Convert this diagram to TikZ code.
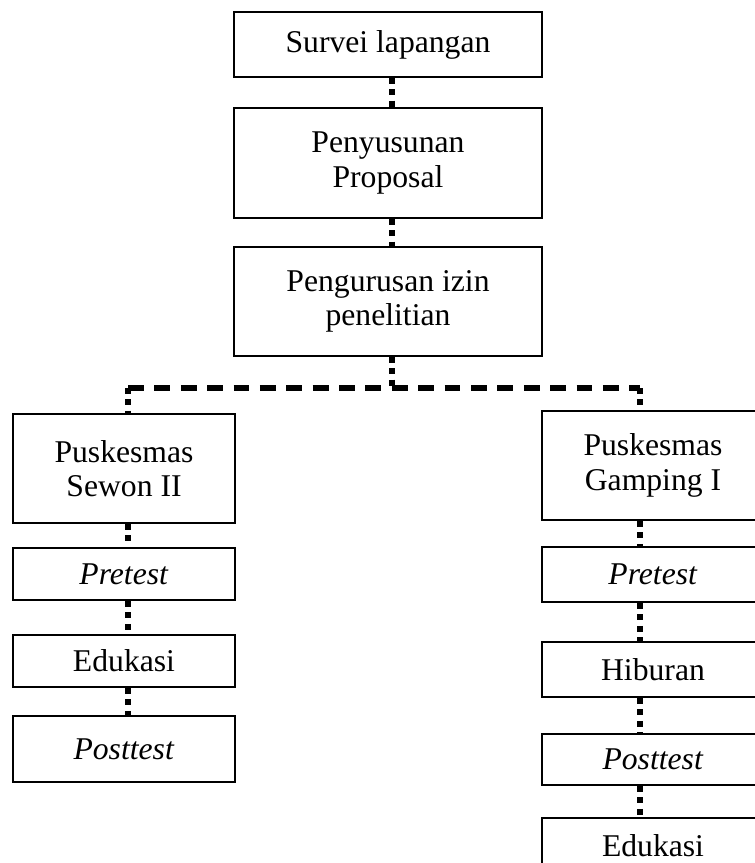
\documentclass[tikz,border=0pt]{standalone}
\usepackage{fontspec}
\setmainfont{Liberation Serif}
\usetikzlibrary{positioning}

\begin{document}
\begin{tikzpicture}[x=0.379pt, y=-0.379pt, font=\fontsize{12}{13}\selectfont,
  box/.style={draw, line width=0.8pt, align=center, inner sep=0},
  wide/.style={box, minimum width=116.7pt},
  col/.style={box, minimum width=84.1pt},
  ht/.style={minimum height=#1*0.379pt},
  dotline/.style={line width=2.2pt, dash pattern=on 2.2pt off 2.1pt},
  dashline/.style={line width=1.9pt, dash pattern=on 6pt off 4pt}]
\useasboundingbox (0,0) rectangle (755,863);
\clip (0,0) rectangle (755,863);
% Main column
\node[wide, ht=65]  (survei)   at (388,44.5)  {Survei lapangan};
\node[wide, ht=110] (proposal) at (388,163)   {Penyusunan\\Proposal};
\node[wide, ht=109] (izin)     at (388,301.5) {Pengurusan izin\\penelitian};
% Left branch
\node[col, ht=109] (sewon) at (124,468.5) {Puskesmas\\Sewon II};
\node[col, ht=52]  (preL)  at (124,574)   {\textit{Pretest}};
\node[col, ht=52]  (eduL)  at (124,661)   {Edukasi};
\node[col, ht=66]  (postL) at (124,749)   {\textit{Posttest}};
% Right branch
\node[col, ht=109] (gamping) at (653,465.5) {Puskesmas\\Gamping I};
\node[col, ht=55]  (preR)    at (653,574.5) {\textit{Pretest}};
\node[col, ht=55]  (hibR)    at (653,669.5) {Hiburan};
\node[col, ht=51]  (postR)   at (653,759.5) {\textit{Posttest}};
\node[col, ht=55]  (eduR)    at (653,845.5) {Edukasi};
% Connectors
\coordinate (colM) at (392,388);
\coordinate (colL) at (128,388);
\coordinate (colR) at (640,388);
\foreach \a/\b in {survei/proposal, proposal/izin}
  \draw[dotline] (\a.south -| colM) -- (\b.north -| colM);
\draw[dotline]  (izin.south -| colM) -- (colM);
\draw[dashline] (colL) -- (colR);
\draw[dotline]  (colL) -- (sewon.north -| colL);
\draw[dotline]  (colR) -- (gamping.north -| colR);
\foreach \a/\b in {sewon/preL, preL/eduL, eduL/postL}
  \draw[dotline] (\a.south -| colL) -- (\b.north -| colL);
\foreach \a/\b in {gamping/preR, preR/hibR, hibR/postR, postR/eduR}
  \draw[dotline] (\a.south -| colR) -- (\b.north -| colR);
\end{tikzpicture}
\end{document}
